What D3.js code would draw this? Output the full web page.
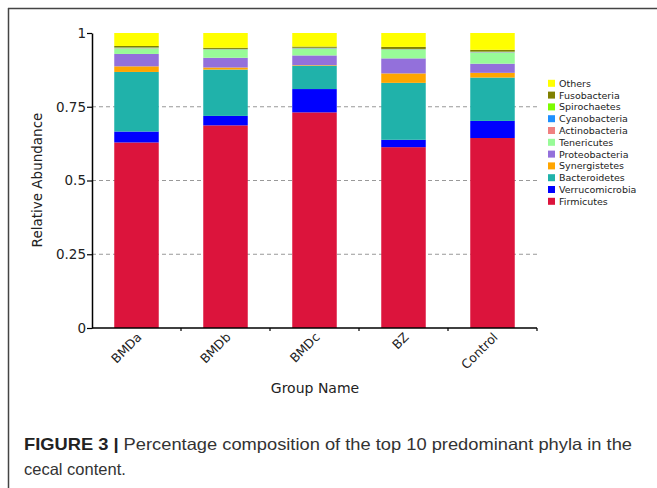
<!DOCTYPE html>
<html>
<head>
<meta charset="utf-8">
<script src="https://cdn.jsdelivr.net/npm/d3@7"></script>
<style>
  body { margin: 0; background: #fff; }
  svg { display: block; }
  .tick text { font-family: "DejaVu Sans", sans-serif; }
</style>
</head>
<body>
<svg id="chart" width="657" height="488"></svg>
<script>
// group names on the x axis
var groups = ["BMDa", "BMDb", "BMDc", "BZ", "Control"];

// phyla, bottom of the stack first
var phyla = ["Firmicutes", "Verrucomicrobia", "Bacteroidetes", "Synergistetes", "Proteobacteria",
             "Tenericutes", "Actinobacteria", "Cyanobacteria", "Spirochaetes", "Fusobacteria", "Others"];

var colors = ["#DC143C", "#0000FF", "#20B2AA", "#FFA500", "#9370DB",
              "#98FB98", "#F08080", "#1E90FF", "#7CFC00", "#808000", "#FFFF00"];

// relative abundance per group (BMDa, BMDb, BMDc, BZ, Control)
var firmicutes      = [0.629, 0.687, 0.731, 0.613, 0.644];
var verrucomicrobia = [0.037, 0.032, 0.079, 0.025, 0.058];
var bacteroidetes   = [0.202, 0.157, 0.079, 0.193, 0.147];
var synergistetes   = [0.019, 0.007, 0.002, 0.032, 0.016];
var proteobacteria  = [0.042, 0.033, 0.033, 0.051, 0.031];
var tenericutes     = [0.019, 0.027, 0.023, 0.029, 0.038];
var actinobacteria  = [0.001, 0.001, 0.001, 0.001, 0.001];
var cyanobacteria   = [0.001, 0.001, 0.001, 0.001, 0.001];
var spirochaetes    = [0.001, 0.001, 0.001, 0.001, 0.001];
var fusobacteria    = [0.005, 0.004, 0.004, 0.007, 0.006];
var others          = [0.044, 0.050, 0.046, 0.047, 0.057];

var yTicks = [0, 0.25, 0.5, 0.75, 1];
var yTickLabels = ["0", "0.25", "0.5", "0.75", "1"];

var series = [firmicutes, verrucomicrobia, bacteroidetes, synergistetes, proteobacteria,
              tenericutes, actinobacteria, cyanobacteria, spirochaetes, fusobacteria, others];

// table for d3.stack
var table = groups.map(function(g, i) {
    var row = { group: g };
    phyla.forEach(function(p, j) { row[p] = series[j][i]; });
    return row;
});

var svg = d3.select("#chart");

// figure frame
svg.append("line").attr("x1", 8).attr("y1", 8.5).attr("x2", 657).attr("y2", 8.5)
    .attr("stroke", "#444").attr("stroke-width", 1.5);
svg.append("line").attr("x1", 8.5).attr("y1", 8).attr("x2", 8.5).attr("y2", 488)
    .attr("stroke", "#444").attr("stroke-width", 1.5);

var x = d3.scaleBand()
    .domain(groups)
    .range([92, 537])
    .paddingInner(0.5)
    .paddingOuter(0.25);

var y = d3.scaleLinear()
    .domain([0, 1])
    .range([328, 33]);

var color = d3.scaleOrdinal().domain(phyla).range(colors);

// dashed grid lines
svg.append("g")
    .selectAll("line")
    .data(yTicks.filter(function(d) { return d > 0 && d < 1; }))
    .enter()
    .append("line")
    .attr("x1", 92)
    .attr("x2", 537)
    .attr("y1", function(d) { return y(d); })
    .attr("y2", function(d) { return y(d); })
    .attr("stroke", "#999")
    .attr("stroke-width", 1)
    .attr("stroke-dasharray", "4,3");

var stacked = d3.stack().keys(phyla)(table);

svg.append("g")
    .selectAll("g")
    .data(stacked)
    .enter()
    .append("g")
    .attr("fill", function(d) { return color(d.key); })
    .selectAll("rect")
    .data(function(d) { return d; })
    .enter()
    .append("rect")
    .attr("x", function(d) { return x(d.data.group); })
    .attr("width", x.bandwidth())
    .attr("y", function(d) { return y(d[1]); })
    .attr("height", function(d) { return y(d[0]) - y(d[1]); });

// y axis
var yAxis = svg.append("g")
    .attr("transform", "translate(92,0)")
    .call(d3.axisLeft(y)
        .tickValues(yTicks)
        .tickFormat(function(d, i) { return yTickLabels[i]; })
        .tickSize(5)
        .tickSizeOuter(0));
yAxis.select(".domain").attr("stroke", "#000").attr("stroke-width", 1.5);
yAxis.selectAll(".tick line").attr("stroke", "#000").attr("stroke-width", 1.2);
yAxis.selectAll(".tick text")
    .attr("font-size", 13.5)
    .attr("fill", "#222")
    .attr("x", -6);

// x axis: line with small ticks at band edges
var xAxis = svg.append("g");
xAxis.append("line")
    .attr("x1", 92).attr("x2", 537)
    .attr("y1", 328).attr("y2", 328)
    .attr("stroke", "#000").attr("stroke-width", 1.5);
var edges = groups.map(function(g) { return x(g) - x.step() * 0.25; }).concat([537]);
xAxis.selectAll(".edge")
    .data(edges.slice(1))
    .enter()
    .append("line")
    .attr("x1", function(d) { return d; })
    .attr("x2", function(d) { return d; })
    .attr("y1", 328).attr("y2", 331)
    .attr("stroke", "#000").attr("stroke-width", 1.2);
xAxis.selectAll(".lbl")
    .data(groups)
    .enter()
    .append("text")
    .attr("transform", function(d) {
        return "translate(" + (x(d) + x.bandwidth() / 2 + 6) + ",338) rotate(-45)";
    })
    .attr("text-anchor", "end")
    .attr("font-family", "DejaVu Sans, sans-serif")
    .attr("font-size", 12.5)
    .attr("fill", "#222")
    .text(function(d) { return d; });

// axis titles
svg.append("text")
    .attr("transform", "translate(42,180) rotate(-90)")
    .attr("text-anchor", "middle")
    .attr("font-family", "DejaVu Sans, sans-serif")
    .attr("font-size", 13.5)
    .attr("fill", "#222")
    .text("Relative Abundance");

svg.append("text")
    .attr("x", 315)
    .attr("y", 393)
    .attr("text-anchor", "middle")
    .attr("font-family", "DejaVu Sans, sans-serif")
    .attr("font-size", 14)
    .attr("fill", "#222")
    .text("Group Name");

// legend, top item is the top of the stack
var legendItems = phyla.slice().reverse();
var legend = svg.append("g")
    .selectAll("g")
    .data(legendItems)
    .enter()
    .append("g")
    .attr("transform", function(d, i) { return "translate(548," + (83.3 + i * 11.8) + ")"; });
legend.append("rect")
    .attr("x", 0).attr("y", -3.5)
    .attr("width", 7).attr("height", 7)
    .attr("fill", function(d) { return color(d); });
legend.append("text")
    .attr("x", 11)
    .attr("y", 3.5)
    .attr("font-family", "DejaVu Sans, sans-serif")
    .attr("font-size", 9.5)
    .attr("fill", "#222")
    .text(function(d) { return d; });

// caption
var cap = svg.append("text")
    .attr("x", 24)
    .attr("y", 450)
    .attr("font-family", "Liberation Sans, Arial, sans-serif")
    .attr("font-size", 16.5)
    .attr("fill", "#333")
    .attr("textLength", 608)
    .attr("lengthAdjust", "spacingAndGlyphs");
cap.append("tspan").attr("font-weight", "bold").attr("fill", "#222").text("FIGURE 3 | ");
cap.append("tspan").text("Percentage composition of the top 10 predominant phyla in the");
svg.append("text")
    .attr("x", 24)
    .attr("y", 475)
    .attr("font-family", "Liberation Sans, Arial, sans-serif")
    .attr("font-size", 16.5)
    .attr("fill", "#333")
    .text("cecal content.");
</script>
</body>
</html>
